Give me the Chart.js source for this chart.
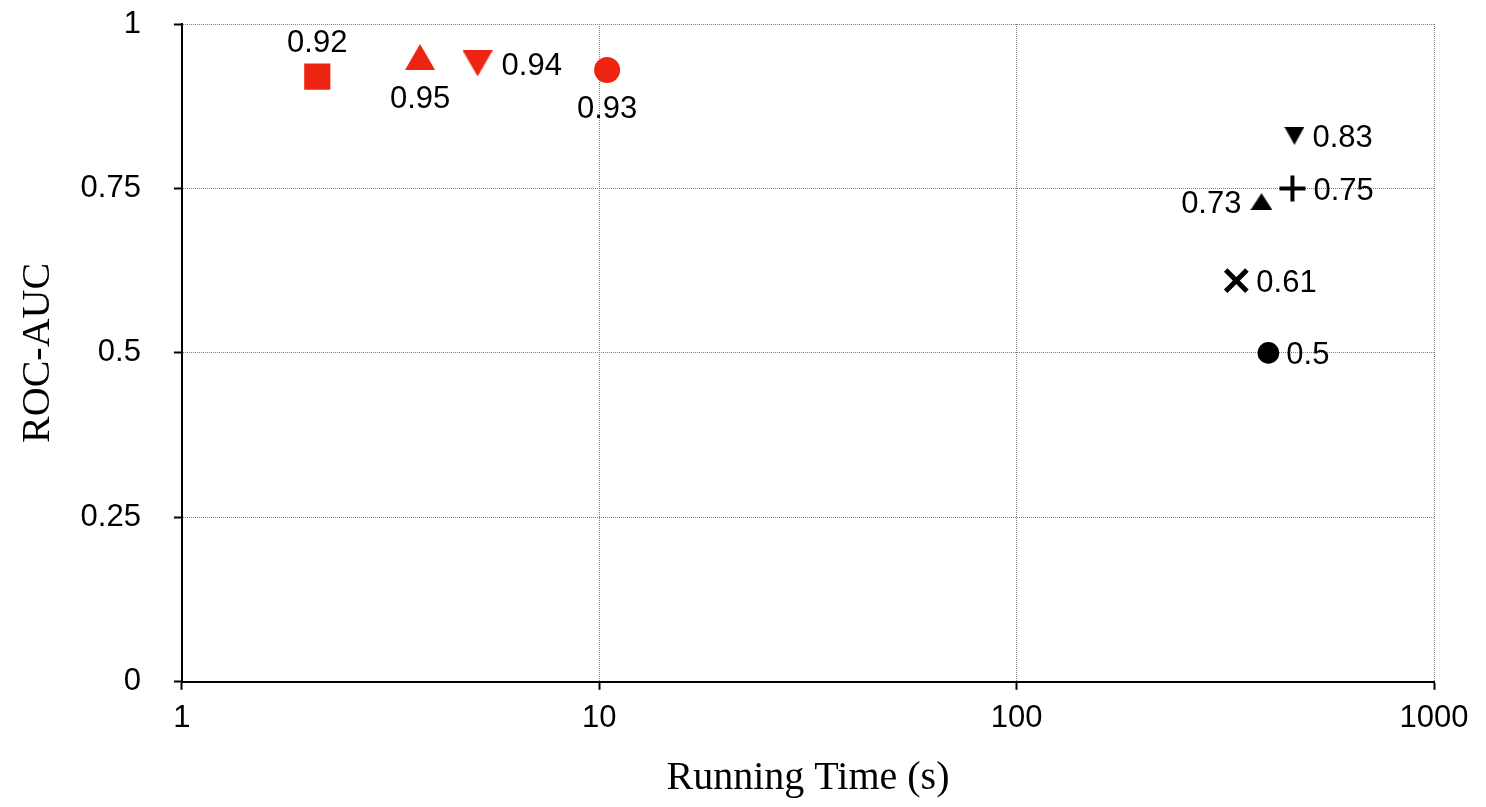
<!DOCTYPE html>
<html>
<head>
<meta charset="utf-8">
<title>ROC-AUC vs Running Time</title>
<script src="https://cdn.jsdelivr.net/npm/chart.js@4.4.1/dist/chart.umd.min.js"></script>
<style>
  html, body { margin: 0; padding: 0; background: #ffffff; }
  #wrap { width: 1486px; height: 807px; }
</style>
</head>
<body>
<div id="wrap"><canvas id="chart" width="1486" height="807"></canvas></div>
<script>
// Running time in seconds (log x axis) and ROC-AUC score for each method
const runningTimes = [2.11, 3.72, 5.11, 10.44, 463, 458, 386, 336, 401];
const rocAuc       = [0.92, 0.95, 0.94, 0.93, 0.83, 0.75, 0.73, 0.61, 0.50];

// Axis ticks
const xTickValues = [1, 10, 100, 1000];
const yTickValues = [0, 0.25, 0.5, 0.75, 1];

const RED = '#ee2412';
const BLACK = '#000000';
const NUM_FONT = '"Liberation Sans", Arial, sans-serif';
const TITLE_FONT = '"Liberation Serif", "Times New Roman", serif';

// Triangles centred on their bounding box, drawn into small canvases
function triangle(w, h, color, down) {
  const c = document.createElement('canvas');
  c.width = w; c.height = h;
  const g = c.getContext('2d');
  g.fillStyle = color;
  g.beginPath();
  if (down) { g.moveTo(0, 0); g.lineTo(w, 0); g.lineTo(w / 2, h); }
  else { g.moveTo(w / 2, 0); g.lineTo(w, h); g.lineTo(0, h); }
  g.closePath();
  g.fill();
  return c;
}

const markerStyles = ['rect', triangle(30, 26, RED, false), triangle(30, 26, RED, true), 'circle',
                      triangle(20, 18, BLACK, true), 'cross', triangle(22, 17, BLACK, false), 'crossRot', 'circle'];
const markerRadius = [18.5, 16, 16, 13, 11, 13, 11, 15, 10.8];
const markerColors = [RED, RED, RED, RED, BLACK, BLACK, BLACK, BLACK, BLACK];
const markerBorder = [0, 0, 0, 0, 0, 4, 0, 5, 0];

// Where each value label sits relative to its marker
const labelSide = ['above', 'below', 'right', 'below', 'right', 'right', 'left', 'right', 'right'];
const labelGap  = [36, 40, 24, 37, 18, 21, 20, 20, 18];

const valueLabels = {
  id: 'valueLabels',
  afterDatasetsDraw(chart) {
    const ctx = chart.ctx;
    const meta = chart.getDatasetMeta(0);
    const size = 31;
    ctx.save();
    ctx.fillStyle = '#000';
    ctx.font = size + 'px ' + NUM_FONT;
    ctx.textBaseline = 'alphabetic';
    meta.data.forEach((pt, i) => {
      const text = String(rocAuc[i]);
      const side = labelSide[i], gap = labelGap[i];
      let x = pt.x, y = pt.y;
      if (side === 'above') { ctx.textAlign = 'center'; y -= gap; }
      else if (side === 'below') { ctx.textAlign = 'center'; y += gap; }
      else if (side === 'right') { ctx.textAlign = 'left'; x += gap; }
      else { ctx.textAlign = 'right'; x -= gap; }
      ctx.fillText(text, x, y + 0.358 * size);
    });
    ctx.restore();
  }
};

// Dotted grey grid lines, solid black tick marks
const gridStyle = {
  color: '#808080',
  lineWidth: 1,
  tickColor: '#000',
  tickWidth: 2,
  tickBorderDash: [],
  tickLength: 8
};
const axisBorder = { display: true, color: '#000', width: 2, dash: [1, 1] };

new Chart(document.getElementById('chart'), {
  type: 'scatter',
  data: {
    datasets: [{
      data: runningTimes.map((t, i) => ({ x: t, y: rocAuc[i] })),
      pointStyle: markerStyles,
      pointRadius: markerRadius,
      pointBackgroundColor: markerColors,
      pointBorderColor: markerColors,
      pointBorderWidth: markerBorder,
      showLine: false
    }]
  },
  options: {
    responsive: false,
    devicePixelRatio: 1,
    animation: false,
    events: [],
    layout: { padding: { top: 24, right: 52, left: 0, bottom: 0 } },
    plugins: { legend: { display: false }, tooltip: { enabled: false } },
    scales: {
      x: {
        type: 'logarithmic',
        min: 1,
        max: 1000,
        afterBuildTicks(scale) { scale.ticks = xTickValues.map(v => ({ value: v, major: true })); },
        ticks: {
          color: '#000',
          padding: 10,
          autoSkip: false,
          maxRotation: 0,
          font: { family: NUM_FONT, size: 31 },
          callback: (v) => String(v)
        },
        grid: gridStyle,
        border: axisBorder,
        title: {
          display: true,
          text: 'Running Time (s)',
          color: '#000',
          font: { family: TITLE_FONT, size: 40 },
          padding: { top: 7, bottom: 5 }
        }
      },
      y: {
        min: 0,
        max: 1,
        afterBuildTicks(scale) { scale.ticks = yTickValues.map(v => ({ value: v })); },
        // the top tick label may overhang the plot edge
        afterFit(scale) { scale.paddingTop = 0; scale.paddingBottom = 0; },
        ticks: {
          color: '#000',
          padding: 33,
          font: { family: NUM_FONT, size: 31 },
          callback: (v) => String(v)
        },
        grid: gridStyle,
        border: axisBorder,
        title: {
          display: true,
          text: 'ROC-AUC',
          color: '#000',
          font: { family: TITLE_FONT, size: 40 },
          padding: { top: 14, bottom: -14.4 }
        }
      }
    }
  },
  plugins: [valueLabels]
});
</script>
</body>
</html>
